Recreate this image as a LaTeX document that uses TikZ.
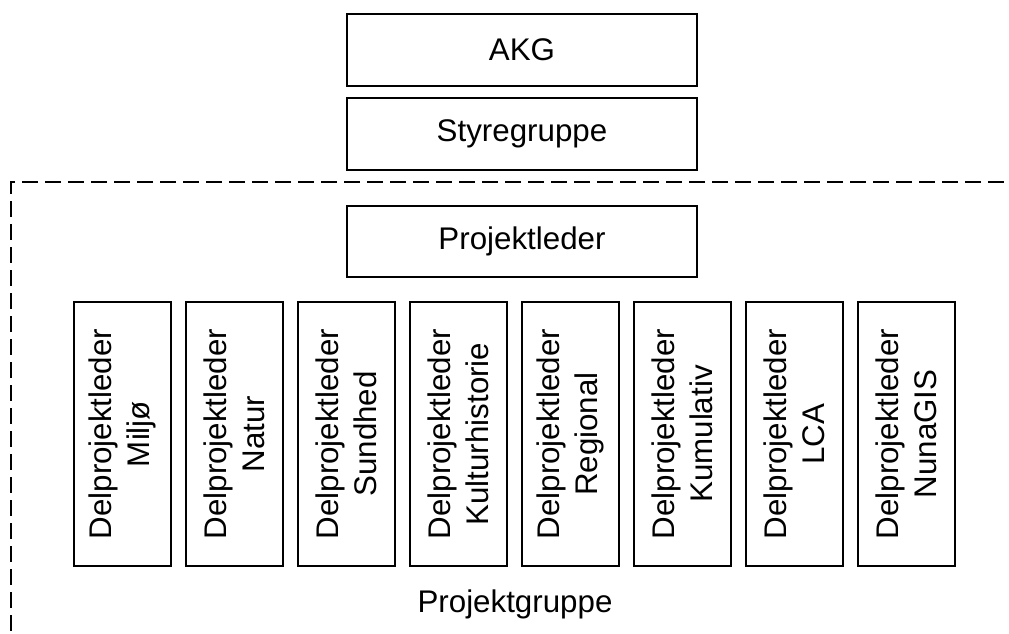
\documentclass[tikz,border=0pt]{standalone}
\usepackage{fontspec}
\setmainfont{Liberation Sans}
\begin{document}
\begin{tikzpicture}[x=1pt,y=-1pt,
  box/.style={draw=black, line width=1.6pt, fill=white, inner sep=0pt,
    font=\fontsize{31.3}{37.5}\selectfont, minimum width=350pt, minimum height=72pt},
  subbox/.style={draw=black, line width=1.6pt, fill=white, inner sep=0pt, rotate=90,
    align=center, font=\fontsize{31.3}{37.5}\selectfont, minimum width=264pt, minimum height=97pt},
  grp/.style={draw=black, line width=1.8pt, dash pattern=on 16pt off 7pt}]
\useasboundingbox (0,0) rectangle (1009,633);
\coordinate (c0) at (1004,182);
\coordinate (c1) at (11,182);
\coordinate (c2) at (11,633);
\draw[grp] (c0) -- (c1) -- (c2);
\node[box] (akg) at (522,50) {AKG};
\node[box] (styre) at (522,134) {Styregruppe};
\node[box, minimum height=71pt] (pl) at (522,241.5) {Projektleder};
\node[subbox] (d1) at (122.5,434) {Delprojektleder\\Miljø};
\node[subbox] (d2) at (234.5,434) {Delprojektleder\\Natur};
\node[subbox] (d3) at (346.5,434) {Delprojektleder\\Sundhed};
\node[subbox] (d4) at (458.5,434) {Delprojektleder\\Kulturhistorie};
\node[subbox] (d5) at (570.5,434) {Delprojektleder\\Regional};
\node[subbox] (d6) at (682.5,434) {Delprojektleder\\Kumulativ};
\node[subbox] (d7) at (794.5,434) {Delprojektleder\\LCA};
\node[subbox] (d8) at (906.5,434) {Delprojektleder\\NunaGIS};
\node[font=\fontsize{31.3}{37.5}\selectfont, inner sep=0pt] (pg) at (515,604) {Projektgruppe};
\end{tikzpicture}
\end{document}
